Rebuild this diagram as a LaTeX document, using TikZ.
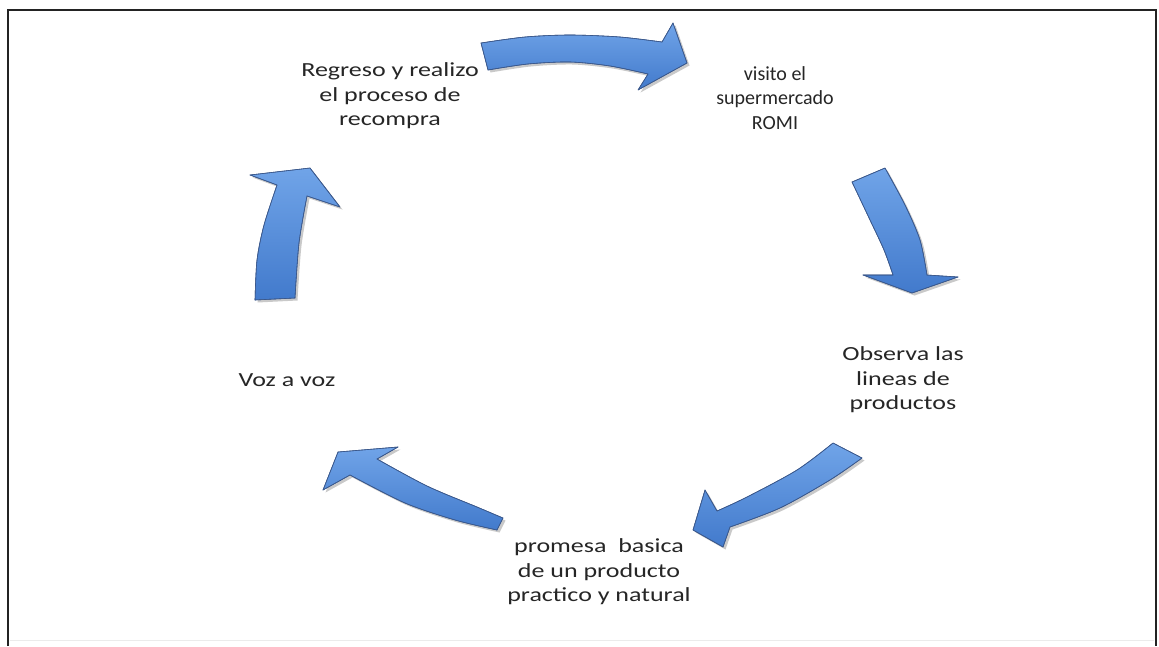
\documentclass[tikz,border=0pt]{standalone}
\usepackage{fontspec}
\setmainfont{Carlito}
\newfontfamily\widefont[FakeStretch=1.3]{Carlito}
\definecolor{arrowblue}{RGB}{66,122,204}
\definecolor{arrowlight}{RGB}{112,164,232}
\definecolor{arrowedge}{RGB}{58,88,140}
\definecolor{labeltext}{RGB}{38,38,38}
\definecolor{framegray}{RGB}{35,35,35}
\begin{document}
\begin{tikzpicture}[x=1pt,y=-1pt,
  arrowbody/.style={top color=arrowlight, bottom color=arrowblue,
    draw=arrowedge, line width=0.6pt, line join=round},
  arrowshadow/.style={fill=black!60, opacity=0.35},
  steplabel/.style={font=\fontsize{20}{24.5}\selectfont, align=center,
    text=labeltext, inner sep=0pt},
  widelabel/.style={steplabel, font=\widefont\fontsize{20}{24.5}\selectfont},
  frameline/.style={draw=framegray, line width=2pt}]
\useasboundingbox (0,0) rectangle (1159,646);
\fill[white] (0,0) rectangle (1159,646);

% open frame round the cycle
\draw[frameline] (8,646) -- (8,10) -- (1156,10) -- (1156,646);
\draw[black!8, line width=1pt] (10,640) -- (1154,640);

% curved block arrows of the cycle (outline of shaft and head)
\def\arrowtop{plot[smooth] coordinates {(481,43) (525,37) (570,35) (620,37) (662,42)}
  -- (673,23) -- (687,63) -- (638,90)
  -- plot[smooth] coordinates {(648,74) (610,66) (570,62) (528,64) (488,70)} -- cycle}
\def\arrowright{plot[smooth] coordinates {(885,168) (905,205) (920,240) (927,275)}
  -- (958,277) -- (912,293) -- (863,275)
  -- plot[smooth] coordinates {(893,275) (884,250) (870,220) (852,182)} -- cycle}
\def\arrowlowright{plot[smooth] coordinates {(862,458) (830,480) (780,508) (730,527)}
  -- (723,547) -- (693,530) -- (705,490)
  -- plot[smooth] coordinates {(717,511) (747,497) (797,470) (833,443)} -- cycle}
\def\arrowlowleft{plot[smooth] coordinates {(497,530) (455,520) (405,503) (350,475)}
  -- (323,490) -- (338,452) -- (398,447)
  -- plot[smooth] coordinates {(377,459) (427,486) (477,507) (503,518)} -- cycle}
\def\arrowleft{plot[smooth] coordinates {(255,300) (257,260) (264,225) (277,185)}
  -- (250,175) -- (310,168) -- (340,207)
  -- plot[smooth] coordinates {(307,196) (299,243) (295,298)} -- cycle}

\foreach \shape in {\arrowtop,\arrowright,\arrowlowright,\arrowlowleft,\arrowleft}{
  \fill[arrowshadow, shift={(2.5,2.5)}] \shape;
  \shade[arrowbody] \shape;
  \draw[arrowedge, line width=0.6pt, line join=round] \shape;
}

% step labels
\node[widelabel] (recompra) at (390,96) {Regreso y realizo\\el proceso de\\recompra};
\node[steplabel] (visita) at (775,98) {visito el\\supermercado\\ROMI};
\node[widelabel] (lineas) at (903,380) {Observa las\\lineas de\\productos};
\node[widelabel] (promesa) at (599,572) {promesa\ \ basica\\de un producto\\practico y natural};
\node[widelabel] (vozavoz) at (287,380) {Voz a voz};
\end{tikzpicture}
\end{document}
